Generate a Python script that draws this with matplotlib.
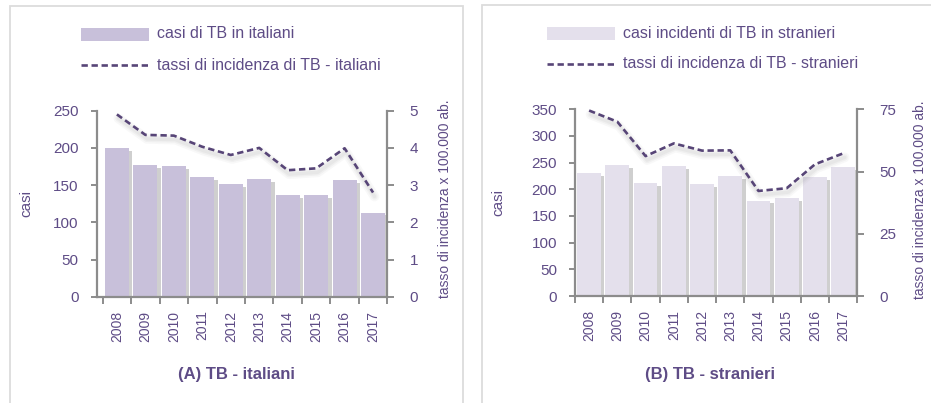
import matplotlib
matplotlib.use("Agg")
import matplotlib.pyplot as plt
import matplotlib.patheffects as pe
import matplotlib.transforms as mtransforms
from matplotlib.patches import Rectangle
from matplotlib.lines import Line2D

plt.rcParams['font.family'] = ['Liberation Sans', 'DejaVu Sans']

### DATA
anni = ['2008', '2009', '2010', '2011', '2012', '2013', '2014', '2015', '2016', '2017']

casi_italiani = [200, 177, 176, 161, 151, 158, 137, 137, 157, 113]
tassi_italiani = [4.9, 4.35, 4.33, 4.03, 3.81, 4.0, 3.4, 3.45, 3.99, 2.8]

casi_stranieri = [230, 245, 212, 244, 210, 225, 179, 184, 223, 242]
tassi_stranieri = [74.5, 70.0, 56.2, 61.3, 58.4, 58.5, 42.2, 43.3, 52.9, 57.3]

### STYLE
W, H = 931, 403
TXT = '#5E4C86'
LINE = '#574577'
SPINE = '#8C8C8C'
BORDER = '#DCDCDC'

fig = plt.figure(figsize=(W / 100, H / 100), dpi=100)


def fx(px):
    return px / W


def fy(py):
    return 1 - py / H


def pannello(box, rect, xmin, casi, tassi, col_bar, ymax, ystep, y2ticks,
             leg_bar, leg_line, leg_pos, titolo, tit_pos, lab_l, lab_r):
    # panel border
    bx0, by0, bx1 = box
    fig.add_artist(Rectangle((fx(bx0), fy(H + 10)), fx(bx1 - bx0), fy(by0) - fy(H + 10),
                             transform=fig.transFigure, fill=False,
                             edgecolor=BORDER, lw=1.3))

    l, t, r, b = rect
    ax = fig.add_axes([fx(l), fy(b), fx(r - l), fy(t) - fy(b)])
    x = list(range(len(anni)))
    ax.bar(x, casi, width=0.84, color=col_bar, zorder=2,
           path_effects=[pe.withSimplePatchShadow(offset=(2.5, -2), shadow_rgbFace='#777777', alpha=0.35)])
    ax.set_xlim(xmin, 9.5)
    ax.set_ylim(0, ymax)
    ax.set_yticks(range(0, ymax + 1, ystep))

    ax2 = ax.twinx()
    # soft shadow under the rate line
    ombra = mtransforms.offset_copy(ax2.transData, fig=fig, x=1.5, y=-4, units='dots')
    for lw, al in ((7, 0.05), (4.5, 0.07), (2.5, 0.08)):
        ax2.plot(x, tassi, color='#888888', lw=lw, alpha=al, transform=ombra,
                 solid_capstyle='round', solid_joinstyle='round')
    ax2.plot(x, tassi, color=LINE, lw=1.9, linestyle=(0, (2.4, 1.4)))
    ax2.set_ylim(0, y2ticks[-1])
    ax2.set_yticks(y2ticks)

    for a in (ax, ax2):
        for s in a.spines.values():
            s.set_visible(False)
    ax.spines['left'].set_visible(True)
    ax.spines['bottom'].set_visible(True)
    ax2.spines['right'].set_visible(True)
    for s in (ax.spines['left'], ax.spines['bottom'], ax2.spines['right']):
        s.set_color(SPINE)
        s.set_linewidth(1.6)
        s.set_zorder(3)

    ax.set_xticks(x)
    ax.set_xticklabels(anni, rotation=90, fontsize=10, color=TXT)
    ax.set_xticks([i - 0.5 for i in range(len(anni) + 1)], minor=True)
    ax.tick_params(axis='x', which='major', length=0, pad=10)
    ax.tick_params(axis='x', which='minor', length=5, width=1.4, color=SPINE, direction='out')
    ax.tick_params(axis='y', length=4, width=1.4, color=SPINE, labelsize=11, labelcolor=TXT, pad=9)
    ax2.tick_params(axis='y', length=5, width=1.4, color=SPINE, labelsize=11, labelcolor=TXT, pad=11)

    ax.set_ylabel('casi', fontsize=11, color=TXT)
    ax.yaxis.set_label_coords(*lab_l)
    ax2.set_ylabel('tasso di incidenza x 100.000 ab.', fontsize=10, color=TXT)
    ax2.yaxis.set_label_coords(*lab_r)

    # legend
    px0, py0 = leg_pos
    fig.add_artist(Rectangle((fx(px0), fy(py0 + 6.5)), fx(68), fy(py0 - 6.5) - fy(py0 + 6.5),
                             transform=fig.transFigure, color=col_bar, lw=0))
    fig.text(fx(px0 + 76), fy(py0), leg_bar, fontsize=11.5, color=TXT, va='center')
    fig.add_artist(Line2D([fx(px0), fx(px0 + 68)], [fy(py0 + 31), fy(py0 + 31)],
                          transform=fig.transFigure, color=LINE, lw=1.9, linestyle=(0, (2.4, 1.4))))
    fig.text(fx(px0 + 76), fy(py0 + 31), leg_line, fontsize=11.5, color=TXT, va='center')

    fig.text(fx(tit_pos[0]), fy(tit_pos[1]), titolo, fontsize=12, fontweight='bold',
             color=TXT, ha='center', va='center')


### (A) ITALIANI
pannello((9.5, 5.7, 463.3), (96.7, 110.7, 387.3, 296.7), -0.71,
         casi_italiani, tassi_italiani, '#C8C0DA', 250, 50, [0, 1, 2, 3, 4, 5],
         'casi di TB in italiani', 'tassi di incidenza di TB - italiani', (81, 34),
         '(A) TB - italiani', (236, 375), (-0.219, 0.5), (1.173, 0.525))

### (B) STRANIERI
pannello((481.7, 5.5, 945), (575, 109.3, 857.3, 296), -0.5,
         casi_stranieri, tassi_stranieri, '#E4E0EC', 350, 50, [0, 25, 50, 75],
         'casi incidenti di TB in stranieri', 'tassi di incidenza di TB - stranieri', (547, 33),
         '(B) TB - stranieri', (710, 374), (-0.2455, 0.5), (1.197, 0.514))

fig.savefig('out.png', dpi=100)
